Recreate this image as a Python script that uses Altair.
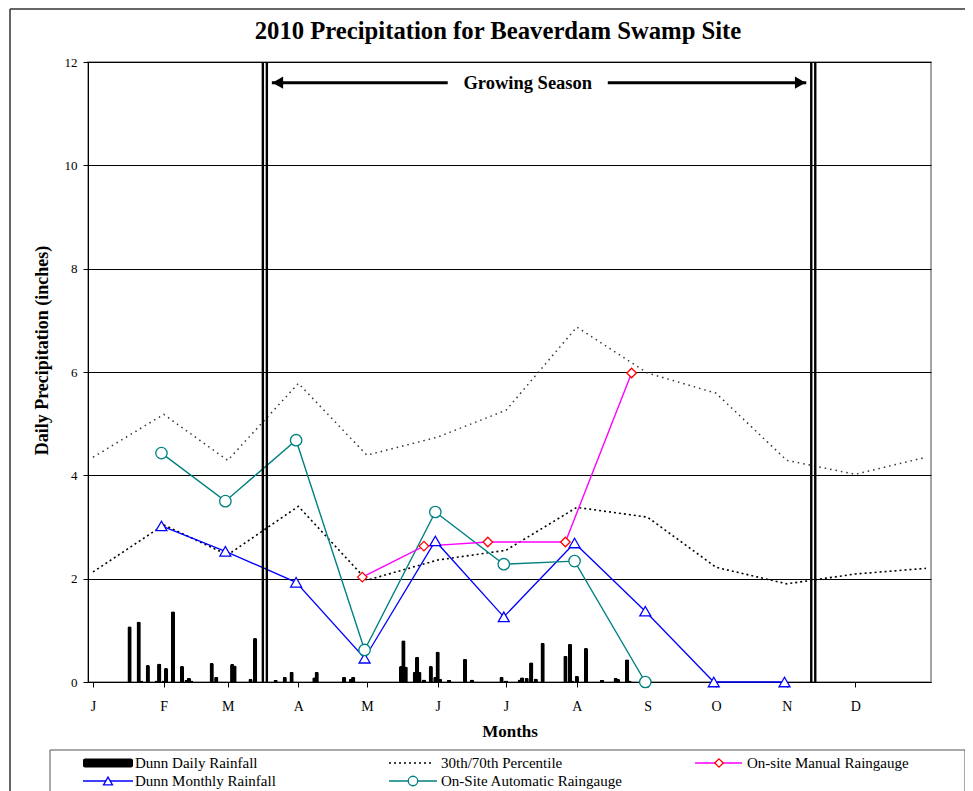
import altair as alt
import pandas as pd

# ---------------- data ----------------
month_letters = ["J", "F", "M", "A", "M", "J", "J", "A", "S", "O", "N", "D"]
month_start_day = [0, 31, 59, 90, 120, 151, 181, 212, 243, 273, 304, 334]

# Dunn daily rainfall: day of year (0 = Jan 1) and inches
daily_day = [16, 20, 21, 24, 28, 29, 31, 32, 35, 39, 41, 42, 43, 52, 54, 61, 62, 69, 71,
             80, 84, 87, 97, 98, 110, 113, 114, 135, 136, 137, 141, 142, 143, 145, 148,
             150, 151, 152, 156, 163, 166, 179, 181, 187, 188, 190, 192, 194, 197, 207,
             209, 210, 212, 216, 223, 229, 230, 234, 235]
daily_rain = [1.08, 1.17, 0.03, 0.33, 0.03, 0.36, 0.03, 0.27, 1.37, 0.31, 0.04, 0.08, 0.03,
              0.37, 0.10, 0.35, 0.32, 0.06, 0.85, 0.04, 0.10, 0.20, 0.09, 0.20, 0.10, 0.06,
              0.10, 0.31, 0.81, 0.30, 0.20, 0.49, 0.20, 0.05, 0.31, 0.10, 0.59, 0.07, 0.04,
              0.45, 0.05, 0.10, 0.03, 0.05, 0.09, 0.08, 0.38, 0.07, 0.76, 0.51, 0.74, 0.03,
              0.12, 0.66, 0.04, 0.08, 0.06, 0.44, 0.03]

# 30th / 70th percentile (monthly)
pct_day = [0, 31, 59, 90, 120, 151, 181, 212, 243, 273, 304, 334, 365]
pct70 = [4.35, 5.18, 4.29, 5.78, 4.39, 4.74, 5.26, 6.87, 5.98, 5.59, 4.29, 4.02, 4.35]
pct30 = [2.13, 3.04, 2.46, 3.40, 1.97, 2.36, 2.55, 3.38, 3.19, 2.22, 1.90, 2.09, 2.20]

# Dunn monthly rainfall
monthly_day = [30, 58, 89, 119, 150, 180, 211, 242, 272, 303]
monthly_rain = [3.02, 2.53, 1.93, 0.46, 2.73, 1.26, 2.69, 1.37, 0.0, 0.0]

# On-site automatic raingauge
auto_day = [30, 58, 89, 119, 150, 180, 211, 242]
auto_rain = [4.43, 3.50, 4.68, 0.62, 3.29, 2.28, 2.34, 0.0]

# On-site manual raingauge
manual_day = [118, 145, 173, 207, 236]
manual_rain = [2.03, 2.63, 2.71, 2.71, 5.98]

# Growing season (day of year) and annotation
growing_start = 75.3
growing_end = 315.6
arrow_level = 11.6
arrow_text_day = 190.5
arrow_gap = [158.5, 222.5]

FONT = "Liberation Serif"
TEAL = "#008080"
BLUE = "#0000ff"
MAGENTA = "#ff00ff"
RED = "#ff0000"

# ---------------- scales / axes ----------------
x_scale = alt.Scale(domain=[0, 365], nice=False, zero=False)
y_scale = alt.Scale(domain=[0, 12], nice=False)

label_expr = "[" + ",".join("'%s'" % m for m in month_letters) + "][indexof([" + \
    ",".join(str(d) for d in month_start_day) + "], datum.value)]"

x_axis = alt.Axis(values=month_start_day, labelExpr=label_expr, grid=False,
                  tickSize=5, tickColor="black", domainColor="black",
                  labelFont=FONT, labelFontSize=14, labelColor="black",
                  labelPadding=12, labelFlush=False, labelOverlap=False,
                  title="Months", titleFont=FONT, titleFontSize=17,
                  titleFontWeight="bold", titleColor="black",
                  titleY=49, titleBaseline="middle")
y_axis = alt.Axis(values=[0, 2, 4, 6, 8, 10, 12], grid=True, gridColor="black",
                  gridWidth=1, tickSize=5, tickColor="black", domainColor="black",
                  labelFont=FONT, labelFontSize=13, labelColor="black",
                  labelPadding=6, labelFlush=False,
                  title="Daily Precipitation (inches)", titleFont=FONT,
                  titleFontSize=18, titleFontWeight="bold", titleColor="black",
                  titleX=-46, titleY=288, titleBaseline="middle", titleAlign="center",
                  titleAngle=270)

X = alt.X("day:Q", scale=x_scale, axis=x_axis)
Y = alt.Y("value:Q", scale=y_scale, axis=y_axis)

df_daily = pd.DataFrame({"day": daily_day, "value": daily_rain})
df70 = pd.DataFrame({"day": pct_day, "value": pct70})
df30 = pd.DataFrame({"day": pct_day, "value": pct30})
df_month = pd.DataFrame({"day": monthly_day, "value": monthly_rain})
df_auto = pd.DataFrame({"day": auto_day, "value": auto_rain})
df_manual = pd.DataFrame({"day": manual_day, "value": manual_rain})
df_gs = pd.DataFrame({"day": [growing_start, growing_end]})
df_arrow = pd.DataFrame({"day": [growing_start, arrow_gap[1]],
                         "day2": [arrow_gap[0], growing_end],
                         "value": [arrow_level, arrow_level]})
df_head_l = pd.DataFrame({"day": [growing_start], "value": [arrow_level]})
df_head_r = pd.DataFrame({"day": [growing_end], "value": [arrow_level]})
df_label = pd.DataFrame({"day": [arrow_text_day], "value": [arrow_level],
                         "text": ["Growing Season"]})
one = pd.DataFrame({"k": [0]})

layers = []

bars = alt.Chart(df_daily).mark_bar(size=4.3, color="black", cornerRadiusEnd=1.8).encode(
    x=X, y=Y)
layers.append(bars)

layers.append(alt.Chart(df70).mark_line(color="#333", strokeWidth=1.5,
                                        strokeDash=[1.5, 4]).encode(x=X, y=Y))
layers.append(alt.Chart(df30).mark_line(color="black", strokeWidth=1.6,
                                        strokeDash=[2, 3]).encode(x=X, y=Y))

layers.append(alt.Chart(df_month).mark_line(color=BLUE, strokeWidth=1.3).encode(x=X, y=Y))
layers.append(alt.Chart(df_auto).mark_line(color=TEAL, strokeWidth=1.4).encode(x=X, y=Y))
layers.append(alt.Chart(df_manual).mark_line(color=MAGENTA, strokeWidth=1.4).encode(x=X, y=Y))

layers.append(alt.Chart(df_month).mark_point(shape="triangle-up", filled=True, fill="white",
                                             stroke=BLUE, strokeWidth=1.3, size=120,
                                             opacity=1).encode(x=X, y=Y))
layers.append(alt.Chart(df_auto).mark_point(shape="circle", filled=True, fill="white",
                                            stroke=TEAL, strokeWidth=1.3, size=130,
                                            opacity=1).encode(x=X, y=Y))
layers.append(alt.Chart(df_manual).mark_point(shape="diamond", filled=True, fill="white",
                                              stroke=RED, strokeWidth=1.3, size=90,
                                              opacity=1).encode(x=X, y=Y))

# growing season double lines
for off in (-2, 2):
    layers.append(alt.Chart(df_gs).mark_rule(color="black", strokeWidth=2.4, xOffset=off)
                  .encode(x=X))

# arrow
layers.append(alt.Chart(df_arrow).mark_rule(color="black", strokeWidth=3, xOffset=7,
                                            x2Offset=-7)
              .encode(x=X, x2="day2:Q", y=Y))
layers.append(alt.Chart(df_head_l).mark_point(shape="triangle-left", filled=True,
                                              color="black", size=150, opacity=1, xOffset=13)
              .encode(x=X, y=Y))
layers.append(alt.Chart(df_head_r).mark_point(shape="triangle-right", filled=True,
                                              color="black", size=150, opacity=1, xOffset=-13)
              .encode(x=X, y=Y))
layers.append(alt.Chart(df_label).mark_text(font=FONT, fontSize=18.5, fontWeight="bold",
                                            color="black", baseline="middle")
              .encode(x=X, y=Y, text="text:N"))

# chart title
layers.append(alt.Chart(one).mark_text(font=FONT, fontSize=24.7, fontWeight="bold",
                                       color="black", baseline="middle", align="center")
              .encode(x=alt.value(410), y=alt.value(-30),
                      text=alt.value("2010 Precipitation for Beaverdam Swamp Site")))

# outer frame
layers.append(alt.Chart(one).mark_rule(color="#333", strokeWidth=1.5)
              .encode(x=alt.value(-78), x2=alt.value(-78), y=alt.value(-53), y2=alt.value(740)))
layers.append(alt.Chart(one).mark_rule(color="#333", strokeWidth=1.5)
              .encode(x=alt.value(-78), x2=alt.value(890), y=alt.value(-53), y2=alt.value(-53)))

# ---------------- legend (manual) ----------------
layers.append(alt.Chart(one).mark_rect(fill="white", stroke="#555", strokeWidth=1)
              .encode(x=alt.value(-38), x2=alt.value(877), y=alt.value(688), y2=alt.value(745)))
r1, r2 = 701, 719
layers.append(alt.Chart(one).mark_rect(color="black", cornerRadius=2)
              .encode(x=alt.value(-5), x2=alt.value(45), y=alt.value(r1 - 4.5),
                      y2=alt.value(r1 + 4.5)))
layers.append(alt.Chart(one).mark_rule(color="black", strokeWidth=1.6, strokeDash=[2, 3])
              .encode(x=alt.value(301), x2=alt.value(345), y=alt.value(r1), y2=alt.value(r1)))
layers.append(alt.Chart(one).mark_rule(color=MAGENTA, strokeWidth=1.4)
              .encode(x=alt.value(607), x2=alt.value(654), y=alt.value(r1), y2=alt.value(r1)))
layers.append(alt.Chart(one).mark_point(shape="diamond", filled=True, fill="white", stroke=RED,
                                        strokeWidth=1.3, size=70, opacity=1)
              .encode(x=alt.value(631), y=alt.value(r1)))
layers.append(alt.Chart(one).mark_rule(color=BLUE, strokeWidth=1.3)
              .encode(x=alt.value(-5), x2=alt.value(45), y=alt.value(r2), y2=alt.value(r2)))
layers.append(alt.Chart(one).mark_point(shape="triangle-up", filled=True, fill="white",
                                        stroke=BLUE, strokeWidth=1.3, size=80, opacity=1)
              .encode(x=alt.value(20), y=alt.value(r2)))
layers.append(alt.Chart(one).mark_rule(color=TEAL, strokeWidth=1.4)
              .encode(x=alt.value(301), x2=alt.value(349), y=alt.value(r2), y2=alt.value(r2)))
layers.append(alt.Chart(one).mark_point(shape="circle", filled=True, fill="white",
                                        stroke=TEAL, strokeWidth=1.3, size=90, opacity=1)
              .encode(x=alt.value(325), y=alt.value(r2)))

legend_items = [("Dunn Daily Rainfall", 47, r1), ("30th/70th Percentile", 353, r1),
                ("On-site Manual Raingauge", 659, r1), ("Dunn Monthly Rainfall", 47, r2),
                ("On-Site Automatic Raingauge", 353, r2)]
for txt, lx, ly in legend_items:
    layers.append(alt.Chart(one).mark_text(font=FONT, fontSize=15, color="black",
                                           align="left", baseline="middle")
                  .encode(x=alt.value(lx), y=alt.value(ly), text=alt.value(txt)))

chart = alt.layer(*layers).properties(
    width=843, height=620,
    autosize=alt.AutoSizeParams(type="none"),
    padding={"left": 80, "top": 54, "right": 34, "bottom": 109},
    background="white",
).configure_view(stroke="#888", strokeWidth=1.5)

chart.save("out.html", embed_options={"renderer": "svg", "actions": False})
